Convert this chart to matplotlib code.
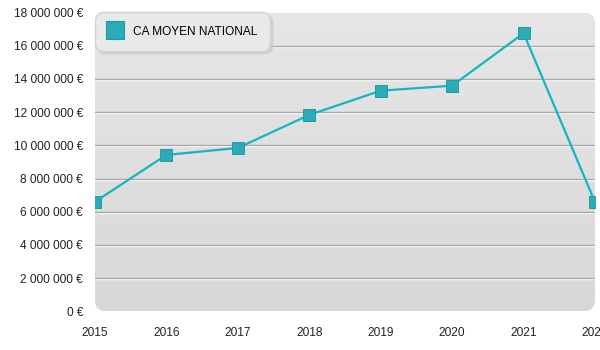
import numpy as np
import matplotlib
matplotlib.use("Agg")
import matplotlib.pyplot as plt
import matplotlib.transforms as mtransforms
from matplotlib.patches import FancyBboxPatch
from matplotlib.lines import Line2D
from matplotlib.ticker import FuncFormatter, MultipleLocator

years = [2015, 2016, 2017, 2018, 2019, 2020, 2021, 2022]
ca_moyen = [6.60e6, 9.42e6, 9.84e6, 11.83e6, 13.29e6, 13.59e6, 16.75e6, 6.58e6]
series_label = "CA MOYEN NATIONAL"

plt.rcParams["font.family"] = ["Liberation Sans", "DejaVu Sans"]
FS = 8.6
LINE_COLOR = "#17b4c4"
MARKER_FACE = "#2aabb7"
MARKER_EDGE = "#1e9ba7"

fig = plt.figure(figsize=(6, 3.5), dpi=100)
# axes box in pixels: x 95..595, y 13..311 (from top)
ax = fig.add_axes([95 / 600, (350 - 311.3) / 350, 500 / 600, (311.3 - 12.5) / 350])
ax.set_facecolor("none")
for s in ax.spines.values():
    s.set_visible(False)

ax.set_xlim(2015, 2022)
ax.set_ylim(0, 18e6)

# rounded panel with a soft vertical gradient
bb = ax.get_position()
panel = FancyBboxPatch((bb.x0 * 6, bb.y0 * 3.5), bb.width * 6, bb.height * 3.5,
                       boxstyle="round,pad=0,rounding_size=0.11",
                       transform=fig.dpi_scale_trans, facecolor="none",
                       edgecolor="none", zorder=0)
ax.add_patch(panel)
grad = np.linspace(0, 1, 256).reshape(-1, 1)
bg = ax.imshow(grad, extent=(2015, 2022, 0, 18e6), aspect="auto", origin="lower",
               cmap=matplotlib.colors.LinearSegmentedColormap.from_list(
                   "bg", ["#d8d8d8", "#e6e6e6"]), zorder=0.5)
bg.set_clip_path(panel)
ax.set_xlim(2015, 2022)
ax.set_ylim(0, 18e6)

# embossed grid lines
shift = mtransforms.offset_copy(ax.transData, fig=fig, x=0, y=-1, units="dots")
for v in range(2, 17, 2):
    ax.plot([2015, 2022], [v * 1e6] * 2, color="white", lw=1.0, transform=shift, zorder=1)
    ax.plot([2015, 2022], [v * 1e6] * 2, color="#a9a9a9", lw=1.0, zorder=1.1)

ax.plot(years, ca_moyen, color=LINE_COLOR, lw=1.6, zorder=3)
ax.plot(years, ca_moyen, ls="none", marker="s", ms=8.6, mfc=MARKER_FACE,
        mec=MARKER_EDGE, mew=0.7, zorder=4)

ax.yaxis.set_major_locator(MultipleLocator(2e6))
ax.yaxis.set_major_formatter(FuncFormatter(
    lambda v, p: f"{v:,.0f}".replace(",", " ") + " €"))
ax.set_xticks(years)
ax.set_xticklabels([str(y) for y in years])
ax.tick_params(axis="y", length=0, pad=8.6, labelsize=FS, colors="#222222")
ax.tick_params(axis="x", length=0, pad=11, labelsize=FS, colors="#222222")

handle = Line2D([], [], ls="none", marker="s", ms=13, mfc=MARKER_FACE,
                mec=MARKER_EDGE, mew=0.8)
leg = ax.legend([handle], [series_label], loc="upper left", bbox_to_anchor=(0, 1),
                borderaxespad=0, frameon=True, fancybox=True, fontsize=FS,
                handlelength=1.1, handletextpad=0.95, borderpad=1.1,
                shadow={"color": "#cdcdcd", "alpha": 0.8})
frame = leg.get_frame()
frame.set_boxstyle("round,pad=0,rounding_size=0.7")
frame.set_facecolor("#e9e9e9")
frame.set_edgecolor("#d2d2d2")
frame.set_alpha(1)
leg.set_zorder(5)

fig.savefig("out.png", dpi=100)
